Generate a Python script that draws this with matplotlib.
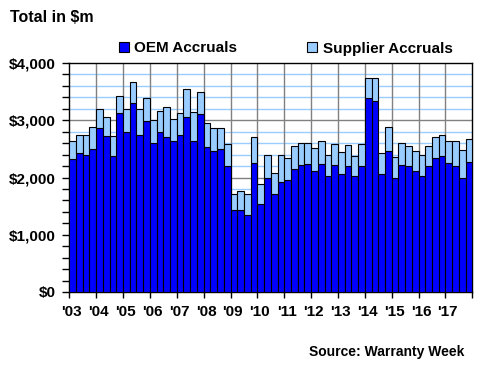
import numpy as np
import matplotlib
matplotlib.use("Agg")
from matplotlib import pyplot as plt
from matplotlib.lines import Line2D

plt.rcParams['font.family'] = ['Liberation Sans', 'DejaVu Sans']
plt.rcParams['font.weight'] = 'bold'

# quarterly accruals in $m, 2003 Q1 .. 2017 Q4
oem = [2320, 2420, 2390, 2490, 2860, 2720, 2370, 3120,
       2790, 3300, 2740, 2980, 2600, 2790, 2700, 2640,
       2750, 3060, 2640, 3110, 2540, 2460, 2490, 2200,
       1440, 1440, 1350, 2250, 1530, 2000, 1710, 1930,
       1950, 2150, 2210, 2230, 2110, 2230, 2020, 2210,
       2060, 2200, 2020, 2200, 3380, 3330, 2060, 2470,
       1990, 2210, 2200, 2110, 2020, 2200, 2340, 2370,
       2250, 2200, 1990, 2270]
supplier = [310, 320, 360, 390, 340, 330, 350, 310,
            400, 360, 450, 400, 400, 370, 530, 380,
            370, 480, 500, 390, 410, 400, 370, 390,
            280, 320, 370, 450, 350, 390, 360, 470,
            390, 400, 390, 380, 400, 400, 370, 370,
            380, 360, 350, 380, 350, 400, 360, 420,
            360, 400, 350, 350, 370, 350, 360, 370,
            380, 430, 490, 400]
year_labels = ["'03", "'04", "'05", "'06", "'07", "'08", "'09", "'10",
               "'11", "'12", "'13", "'14", "'15", "'16", "'17"]
y_ticks = [0, 1000, 2000, 3000, 4000]
y_labels = ['$0', '$1,000', '$2,000', '$3,000', '$4,000']

OEM_COLOR = '#0000FF'
SUP_COLOR = '#99CCFF'

fig = plt.figure(figsize=(4.8, 3.7), dpi=100)
ax = fig.add_axes([69.3 / 480, 78 / 370, 403 / 480, 229 / 370])

x = np.arange(len(oem)) + 0.5
ax.bar(x, oem, width=1.0, color=OEM_COLOR, edgecolor='black', linewidth=0.8, zorder=3)
ax.bar(x, supplier, width=1.0, bottom=oem, color=SUP_COLOR, edgecolor='black',
       linewidth=0.8, zorder=3)

ax.set_xlim(0, len(oem))
ax.set_ylim(0, 4000)

# grid: light blue every $200, gray every $1,000 and at year boundaries
for v in range(200, 4000, 200):
    c = '#808080' if v % 1000 == 0 else SUP_COLOR
    ax.axhline(v, color=c, linewidth=1.0, zorder=1)
for i in range(4, len(oem), 4):
    ax.axvline(i, color='#808080', linewidth=1.0, zorder=1)

ax.set_yticks(y_ticks)
ax.set_yticklabels(y_labels, fontsize=11, fontweight='bold')
ax.set_yticks(np.arange(0, 4001, 200), minor=True)
ax.tick_params(axis='y', which='both', direction='out', length=5, width=1, pad=5)

ax.set_xticks(np.arange(0, len(oem) + 1, 4))
ax.set_xticklabels([])
ax.set_xticks(np.arange(len(year_labels)) * 4 + 0.36, minor=True)
ax.set_xticklabels(year_labels, minor=True, fontsize=11, fontweight='bold')
ax.tick_params(axis='x', which='major', direction='out', length=4, width=1)
ax.tick_params(axis='x', which='minor', length=0, pad=9)

for s in ax.spines.values():
    s.set_color('black')
    s.set_linewidth(1.0)

fig.text(10 / 480, 1 - 18 / 370, 'Total in $m', fontsize=11.5, fontweight='bold',
         va='center', ha='left')
fig.text(464 / 480, 1 - 352 / 370, 'Source: Warranty Week', fontsize=10,
         fontweight='bold', va='center', ha='right')

handles = [Line2D([], [], linestyle='none', marker='s', markersize=7.5,
                  markerfacecolor=OEM_COLOR, markeredgecolor='black', markeredgewidth=0.8),
           Line2D([], [], linestyle='none', marker='s', markersize=7.5,
                  markerfacecolor=SUP_COLOR, markeredgecolor='black', markeredgewidth=0.8)]
fig.legend(handles, ['OEM Accruals', 'Supplier Accruals'], loc='center left',
           bbox_to_anchor=(110 / 480, 1 - 48.5 / 370), ncol=2, frameon=False,
           handlelength=0.8, handletextpad=0.3, columnspacing=4.5,
           borderpad=0, prop={'size': 11, 'weight': 'bold'})

fig.savefig('out.png', dpi=100)
